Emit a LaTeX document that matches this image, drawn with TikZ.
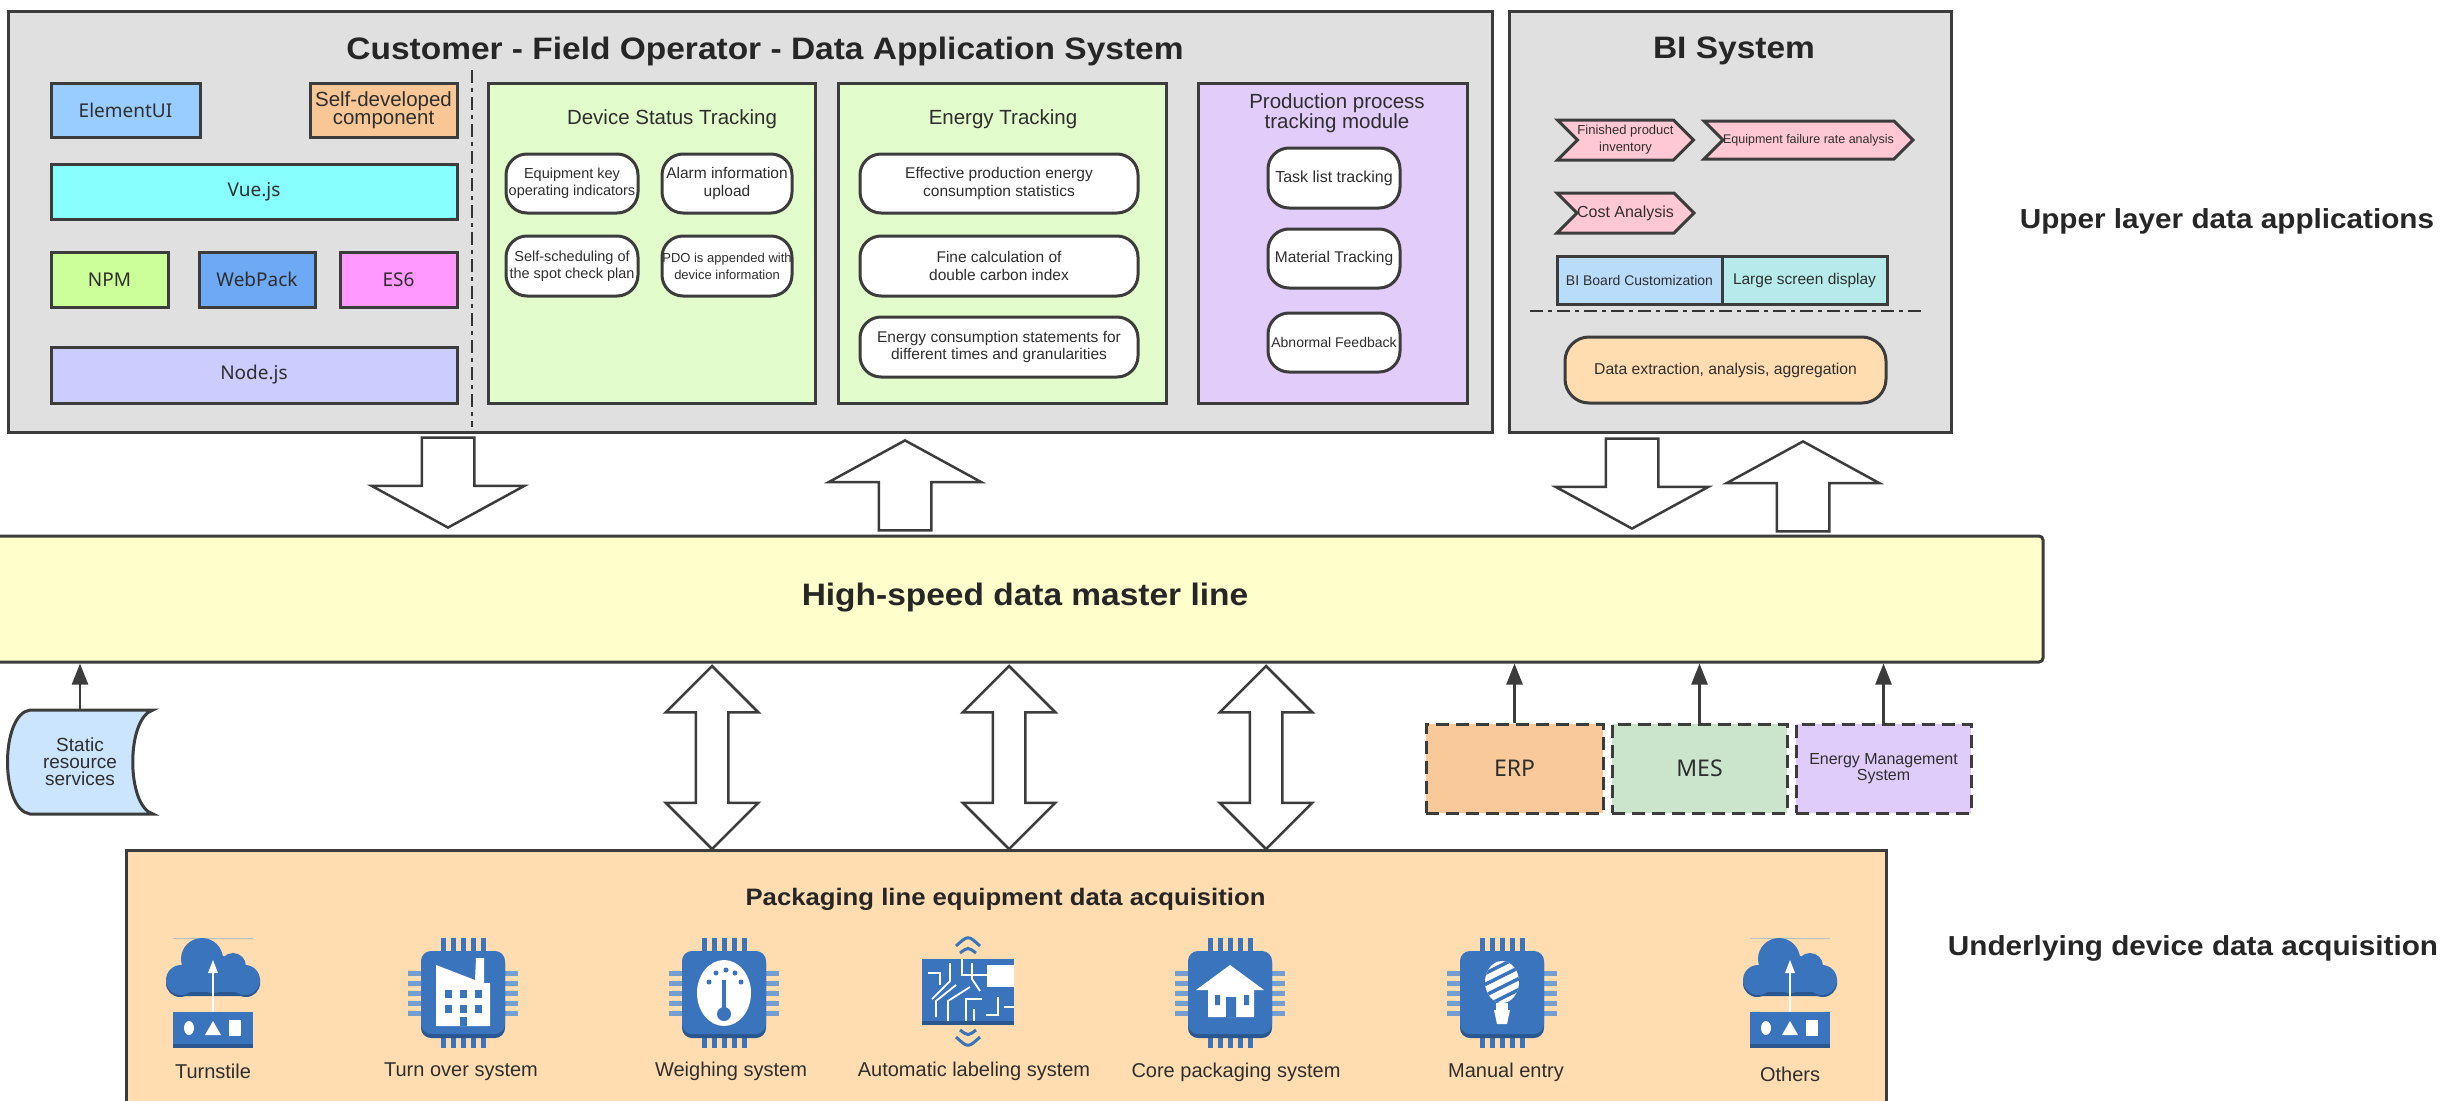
\documentclass[tikz,border=0pt]{standalone}
\usepackage{fontspec}
\setmainfont{Liberation Sans}
\newfontfamily\yafont{Noto Sans}
\newfontfamily\widefont[FakeStretch=1.08]{Liberation Sans}
\usetikzlibrary{arrows.meta,shapes.arrows,shapes.symbols}
\definecolor{linegrey}{HTML}{3C3C3C}
\definecolor{textgrey}{HTML}{2E2E2E}
\definecolor{panelgrey}{HTML}{E0E0E0}
\definecolor{moduleblue}{HTML}{99CCFF}
\definecolor{selforange}{HTML}{F8C795}
\definecolor{vuecyan}{HTML}{88FFFF}
\definecolor{npmgreen}{HTML}{CCFF99}
\definecolor{packblue}{HTML}{6EA9F5}
\definecolor{espink}{HTML}{FF99FF}
\definecolor{nodeviolet}{HTML}{CCCCFF}
\definecolor{trackgreen}{HTML}{E3FCCB}
\definecolor{trackviolet}{HTML}{E1CCFA}
\definecolor{baryellow}{HTML}{FFFFCC}
\definecolor{baseorange}{HTML}{FFDDB0}
\definecolor{staticblue}{HTML}{CCE5FF}
\definecolor{erporange}{HTML}{F9C999}
\definecolor{mesgreen}{HTML}{CBE5CC}
\definecolor{emsviolet}{HTML}{E0CCFB}
\definecolor{signalpink}{HTML}{FFC8D4}
\definecolor{boardblue}{HTML}{BADCFB}
\definecolor{screencyan}{HTML}{B7EBEB}
\definecolor{iconblue}{HTML}{3A74BC}
\definecolor{icondark}{HTML}{2A578F}

\begin{document}
\begin{tikzpicture}[x=1pt,y=-1pt]
\tikzset{panel/.style = {shape=rectangle,draw=linegrey,line width=3pt,inner sep=0pt}}
\tikzset{techbox/.style = {panel,text=textgrey,font=\yafont\fontsize{19}{22}\selectfont}}
\tikzset{pillbox/.style = {panel,fill=white,rounded corners=21pt,align=center,text=textgrey,font=\fontsize{15.5}{17.3}\selectfont}}
\tikzset{tagbox/.style = {shape=signal,signal to=east,signal from=west,draw=linegrey,line width=3pt,inner sep=0pt,fill=signalpink,align=center,text=textgrey}}
\tikzset{dashbox/.style = {shape=rectangle,draw=linegrey,line width=3pt,dash pattern=on 13pt off 7pt,inner sep=0pt,align=center,text=textgrey}}
\tikzset{headtext/.style = {text=textgrey,align=center,inner sep=0pt,font=\fontsize{20.5}{16.8}\selectfont}}
\tikzset{boldtext/.style = {text=black!85,inner sep=0pt,font=\widefont\bfseries\fontsize{#1}{#1}\selectfont}}
\tikzset{itemtext/.style = {text=textgrey,inner sep=0pt,font=\fontsize{20}{22}\selectfont}}
\tikzset{fatarrow/.style = {shape=single arrow,draw=linegrey,line width=2.5pt,fill=white,anchor=tip,inner xsep=0pt,inner ysep=25pt,minimum height=90pt,single arrow head extend=50pt,single arrow tip angle=122.7}}
\tikzset{fatdown/.style = {fatarrow,rotate=-90}}
\tikzset{fatup/.style = {fatarrow,rotate=90}}
\tikzset{fatboth/.style = {shape=double arrow,draw=linegrey,line width=2.5pt,fill=white,rotate=90,inner xsep=0pt,inner ysep=15pt,minimum height=183pt,double arrow head extend=30pt,double arrow tip angle=90}}
\tikzset{flowedge/.style = {draw=linegrey,line width=2.5pt,-{Stealth[length=21pt,width=16pt,inset=0pt]}}}
\tikzset{sepline/.style = {draw=black!80,line width=2pt,dash pattern=on 13pt off 5pt on 4pt off 5pt}}
% icon parts
\tikzset{chipbase/.pic = {
  \foreach \p in {-20,-10,0,10,20} {
    \fill[iconblue] (\p-2.5,-55) rectangle (\p+2.5,55);
    \fill[iconblue!70!white] (-55,\p-2.5) rectangle (55,\p+2.5);
  }
  \fill[icondark,rounded corners=10pt] (-42,-40) rectangle (42,45);
  \fill[iconblue,rounded corners=10pt] (-42,-42) rectangle (42,41);
}}
\tikzset{cloudicon/.pic = {
  \draw[black!25,line width=.5pt] (-40,-55) -- (40,-55);
  \fill[icondark] (-47,-14) rectangle (47,-8) (-30,-12) rectangle (30,3);
  \fill[icondark] (-33,-10) circle (14) (33,-10) circle (14);
  \fill[iconblue] (-11,-34) circle (21) (20,-27) circle (13) (-32,-13) circle (15) (32,-13) circle (15) (0,-20) circle (20);
  \fill[iconblue] (-30,-20) rectangle (30,-1);
  \fill[iconblue] (-40,19) rectangle (40,51);
  \fill[icondark] (-40,51) rectangle (40,55);
  \draw[white,line width=1.5pt] (0,19) -- (0,-20);
  \fill[white] (0,-33) -- (5,-20) -- (-5,-20) -- cycle;
  \fill[white] (-24,35) ellipse (5 and 7);
  \fill[white] (0,28) -- (8,42) -- (-8,42) -- cycle;
  \fill[white] (16,27) rectangle (28,43);
}}
\tikzset{factorychip/.pic = {
  \pic {chipbase};
  \fill[white] (-27,-28) -- (12,-13) -- (13,-35) -- (21,-35) -- (21,-10) -- (27,-10) -- (27,33) -- (-27,33) -- cycle;
  \foreach \p in {-18,-3,12} {
    \fill[iconblue] (\p,-3) rectangle (\p+7,5);
    \fill[iconblue] (\p,12) rectangle (\p+7,20);
  }
  \fill[iconblue] (-3,24) rectangle (4,33);
}}
\tikzset{gaugechip/.pic = {
  \pic {chipbase};
  \fill[white] (0,0) ellipse (27 and 33);
  \fill[iconblue] (-15,-11) circle (2.5) (-8,-20) circle (2.5) (2,-23) circle (2.5) (11,-20) circle (2.5) (17,-11) circle (2.5);
  \draw[iconblue,line width=3.5pt] (0,-13) -- (0,18);
  \fill[iconblue] (0,21) circle (7);
}}
\tikzset{housechip/.pic = {
  \pic {chipbase};
  \fill[white] (0,-28) -- (34,-3) -- (24,-3) -- (24,24) -- (-22,24) -- (-22,-3) -- (-34,-3) -- cycle;
  \fill[iconblue] (-15,2) rectangle (-10,12) (14,2) rectangle (19,12) (-4,4) rectangle (6,24);
}}
\tikzset{bulbchip/.pic = {
  \pic {chipbase};
  \begin{scope}
    \clip (0,-11) ellipse (17 and 21);
    \fill[white] (-20,-35) rectangle (20,12);
    \foreach \p in {-30,-19,-8,3,14} {
      \draw[iconblue,line width=3.5pt] (-20,\p+12) -- (20,\p-8);
    }
  \end{scope}
  \fill[white] (-6,10) rectangle (6,17);
  \fill[white] (-8,17) -- (8,17) -- (5,31) -- (-5,31) -- cycle;
}}
\tikzset{boardicon/.pic = {
  \fill[iconblue] (-46,-34) rectangle (46,28);
  \fill[icondark] (-46,28) rectangle (46,32);
  \fill[white] (19,-28) rectangle (46,-6);
  \foreach \a/\b/\c/\d/\e/\f in {-40/-20/-28/-20/-28/-8,-36/6/-18/-12/-18/-30,-32/24/-32/8/-12/-8,-20/28/-20/8/2/-6,-6/-34/-6/-18/19/-18,4/-30/4/-14/12/-2,-2/28/-2/6/14/6,18/22/30/22/30/4,6/16/6/28/6/28,36/14/46/14/46/14} {
    \draw[white,line width=1.8pt] (\a,\b) -- (\c,\d) -- (\e,\f);
  }
  \draw[iconblue,line width=3pt] (-12,-47) .. controls (0,-58) .. (12,-47);
  \draw[iconblue,line width=3pt] (-8,-40) .. controls (0,-46) .. (8,-40);
  \draw[iconblue,line width=3pt] (-12,44) .. controls (0,55) .. (12,44);
  \draw[iconblue,line width=3pt] (-8,37) .. controls (0,43) .. (8,37);
}}

\clip (0,0) rectangle (2446,1100);

% upper panels
\node[panel,fill=panelgrey,minimum width=1484pt,minimum height=421pt] (dataapp) at (750,221.5) {};
\node[panel,fill=panelgrey,minimum width=442pt,minimum height=421pt] (bisystem) at (1730,221.5) {};
\node[boldtext=31] (dataapptitle) at (765,51) {Customer - Field Operator - Data Application System};
\node[boldtext=31] (bititle) at (1734,51) {BI System};

% front end stack
\node[techbox,fill=moduleblue,minimum width=149pt,minimum height=54pt] (elementui) at (125.5,110) {ElementUI};
\node[panel,fill=selforange,minimum width=147pt,minimum height=54pt,align=center,text=textgrey,font=\fontsize{20.5}{17.3}\selectfont] (selfdev) at (383.5,110) {Self-developed\\component};
\node[techbox,fill=vuecyan,minimum width=406pt,minimum height=55pt] (vuejs) at (254,191.5) {Vue.js};
\node[techbox,fill=npmgreen,minimum width=117pt,minimum height=55pt] (npm) at (109.5,279.5) {NPM};
\node[techbox,fill=packblue,minimum width=116pt,minimum height=55pt] (webpack) at (257,279.5) {WebPack};
\node[techbox,fill=espink,minimum width=117pt,minimum height=55pt] (esix) at (398.5,279.5) {ES6};
\node[techbox,fill=nodeviolet,minimum width=406pt,minimum height=56pt] (nodejs) at (254,375) {Node.js};
\coordinate (sepa) at (472,70);
\coordinate (sepb) at (472,427);
\draw[sepline] (sepa) -- (sepb);

% device status
\node[panel,fill=trackgreen,minimum width=327pt,minimum height=320pt] (devicetrack) at (651.5,243) {};
\node[headtext] (devicetitle) at (672,119) {Device Status Tracking};
\node[pillbox,minimum width=132pt,minimum height=59pt,font=\fontsize{14.5}{17.3}\selectfont] (keyind) at (572,183.5) {Equipment key\\operating indicators};
\node[pillbox,minimum width=130pt,minimum height=59pt] (alarm) at (727,183.5) {Alarm information\\upload};
\node[pillbox,minimum width=132pt,minimum height=60pt,font=\fontsize{14.5}{17.3}\selectfont] (spotcheck) at (572,266) {Self-scheduling of\\the spot check plan};
\node[pillbox,minimum width=130pt,minimum height=60pt,font=\fontsize{13}{17.3}\selectfont] (pdo) at (727,266) {PDO is appended with\\device information};

% energy
\node[panel,fill=trackgreen,minimum width=328pt,minimum height=320pt] (energytrack) at (1002,243) {};
\node[headtext] (energytitle) at (1003,119) {Energy Tracking};
\node[pillbox,minimum width=278pt,minimum height=59pt] (effstats) at (999,183.5) {Effective production energy\\consumption statistics};
\node[pillbox,minimum width=278pt,minimum height=60pt] (carbon) at (999,266) {Fine calculation of\\double carbon index};
\node[pillbox,minimum width=278pt,minimum height=60pt] (statements) at (999,347) {Energy consumption statements for\\different times and granularities};

% production
\node[panel,fill=trackviolet,minimum width=269pt,minimum height=320pt] (prodtrack) at (1332.5,243) {};
\node[headtext] (prodtitle) at (1337,113.5) {Production process\\tracking module};
\node[pillbox,minimum width=132pt,minimum height=60pt,font=\fontsize{16}{17}\selectfont] (tasklist) at (1334,178) {Task list tracking};
\node[pillbox,minimum width=132pt,minimum height=59pt] (material) at (1334,258.5) {Material Tracking};
\node[pillbox,minimum width=132pt,minimum height=59pt,font=\fontsize{14}{17}\selectfont] (abnormal) at (1334,342.5) {Abnormal Feedback};

% BI content
\node[tagbox,minimum width=135pt,minimum height=40pt,font=\fontsize{13}{17}\selectfont] (inventory) at (1625.5,140) {Finished product\\inventory};
\node[tagbox,minimum width=203pt,minimum height=38pt,font=\fontsize{12.5}{15}\selectfont] (failrate) at (1808.5,140) {Equipment failure rate analysis};
\node[tagbox,minimum width=135pt,minimum height=40pt,font=\fontsize{16}{17}\selectfont] (costan) at (1625.5,213) {Cost Analysis};
\node[panel,fill=boardblue,minimum width=165pt,minimum height=48pt,text=textgrey,font=\fontsize{14}{16}\selectfont] (biboard) at (1639.5,280) {BI Board Customization};
\node[panel,fill=screencyan,minimum width=165pt,minimum height=48pt,text=textgrey,font=\fontsize{15.5}{16}\selectfont] (bigscreen) at (1804.5,280) {Large screen display};
\coordinate (bisepa) at (1530,311);
\coordinate (bisepb) at (1924,311);
\draw[sepline] (bisepa) -- (bisepb);
\node[panel,fill=baseorange,rounded corners=24pt,minimum width=321pt,minimum height=66pt,text=textgrey,font=\fontsize{15.7}{18}\selectfont] (extract) at (1725.5,370) {Data extraction, analysis, aggregation};

% master line
\node[panel,fill=baryellow,rounded corners=4pt,minimum width=2053pt,minimum height=126pt] (masterbar) at (1016.5,599) {};
\node[boldtext=31] (mastertitle) at (1025,598) {High-speed data master line};

% fat arrows to upper layer
\node[fatdown] (appdown) at (448,529) {};
\node[fatup] (appup) at (905,439) {};
\node[fatdown] (bidown) at (1632,530) {};
\node[fatup] (biup) at (1803,440) {};

% sources
\fill[staticblue,draw=linegrey,line width=3pt] (153,710) -- (30,710) .. controls (0,714) and (0,810) .. (30,814) -- (153,814) .. controls (126,806) and (126,718) .. (153,710) -- cycle;
\node[minimum width=146pt,minimum height=104pt,inner sep=0pt,align=center,text=textgrey,font=\fontsize{19}{17}\selectfont] (staticres) at (80,762) {Static\\resource\\services};
\draw[flowedge] (staticres.north) -- (staticres.north |- masterbar.south);
\node[dashbox,fill=erporange,minimum width=177pt,minimum height=89pt,font=\yafont\fontsize{23}{25}\selectfont] (erp) at (1514.5,768.5) {ERP};
\node[dashbox,fill=mesgreen,minimum width=175pt,minimum height=89pt,font=\yafont\fontsize{23}{25}\selectfont] (mes) at (1699.5,768.5) {MES};
\node[dashbox,fill=emsviolet,minimum width=175pt,minimum height=89pt,font=\fontsize{16}{16.7}\selectfont] (ems) at (1883.5,768.5) {Energy Management\\System};
\draw[flowedge] (erp.north) -- (erp.north |- masterbar.south);
\draw[flowedge] (mes.north) -- (mes.north |- masterbar.south);
\draw[flowedge] (ems.north) -- (ems.north |- masterbar.south);

% acquisition panel
\node[panel,fill=baseorange,minimum width=1760pt,minimum height=270pt] (acquire) at (1006,985) {};
\node[fatboth] (busa) at (712,757.5) {};
\node[fatboth] (busb) at (1009,757.5) {};
\node[fatboth] (busc) at (1266,757.5) {};
\node[boldtext=23.8] (acquiretitle) at (1005.5,899) {Packaging line equipment data acquisition};

% device icons
\pic at (213,993) {cloudicon};
\pic at (463,993) {factorychip};
\pic at (724,993) {gaugechip};
\pic at (968,993) {boardicon};
\pic at (1230,993) {housechip};
\pic at (1502,993) {bulbchip};
\pic at (1790,993) {cloudicon};
\node[itemtext] (turnstile) at (213,1071) {Turnstile};
\node[itemtext] (turnover) at (461,1072) {Turn over system};
\node[itemtext] (weighing) at (731,1071) {Weighing system};
\node[itemtext] (labeling) at (974,1071) {Automatic labeling system};
\node[itemtext] (corepack) at (1236,1072) {Core packaging system};
\node[itemtext] (manual) at (1506,1072) {Manual entry};
\node[itemtext] (others) at (1790,1074) {Others};

% layer names
\node[boldtext=27.5] (upperlayer) at (2227,221) {Upper layer data applications};
\node[boldtext=27.5] (lowerlayer) at (2193,948) {Underlying device data acquisition};
\end{tikzpicture}
\end{document}
